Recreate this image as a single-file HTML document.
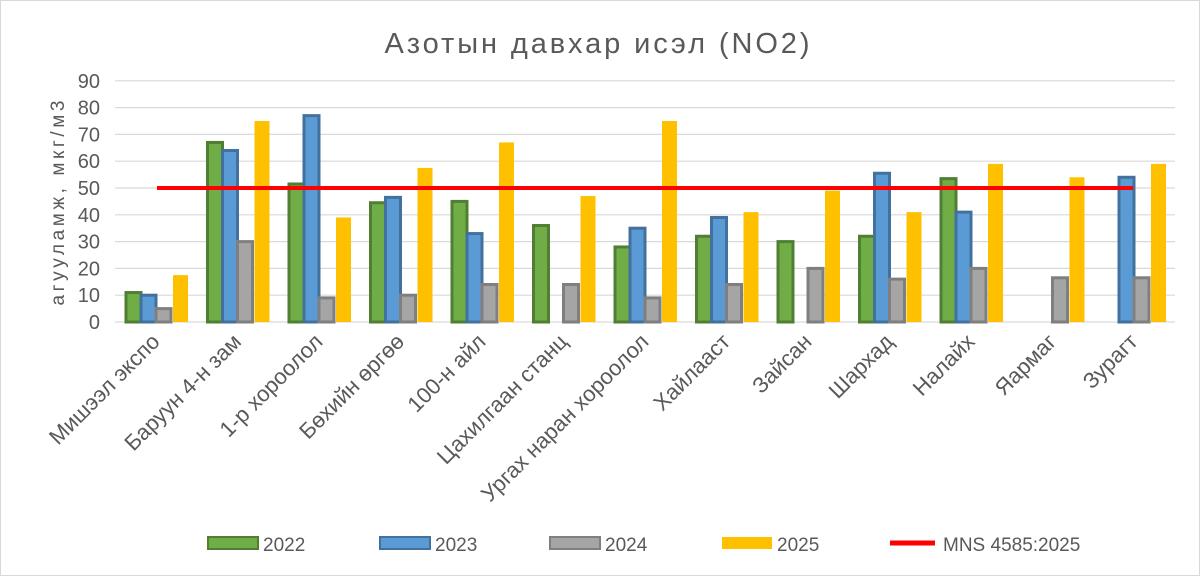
<!DOCTYPE html>
<html><head><meta charset="utf-8">
<style>
html,body{margin:0;padding:0;background:#fff;}
svg{display:block;font-family:"Liberation Sans",sans-serif;}
</style></head>
<body>
<svg id="c" width="1200" height="576" viewBox="0 0 1200 576" xmlns="http://www.w3.org/2000/svg">
<rect x="0.5" y="0.5" width="1199" height="575" fill="#fff" stroke="#d9d9d9"/>
<text x="597" y="53" text-anchor="middle" font-size="29" fill="#595959" textLength="425" lengthAdjust="spacing">Азотын давхар исэл (NO2)</text>
<text transform="translate(64,203) rotate(-90)" text-anchor="middle" font-size="19" fill="#595959" textLength="205" lengthAdjust="spacing">агууламж, мкг/м3</text>
<g id="grid"></g>
<g id="bars"></g>
<line x1="157" y1="188" x2="1133" y2="188" stroke="#ff0000" stroke-width="4"/>
<g id="labels" font-size="22" fill="#595959"></g>
<g font-size="19" fill="#595959">
<rect x="208" y="537" width="50" height="12" fill="#70ad47" stroke="#507e32" stroke-width="2"/><text x="263" y="551">2022</text>
<rect x="380" y="537" width="50" height="12" fill="#5b9bd5" stroke="#41719c" stroke-width="2"/><text x="435" y="551">2023</text>
<rect x="550" y="537" width="50" height="12" fill="#a5a5a5" stroke="#7f7f7f" stroke-width="2"/><text x="605" y="551">2024</text>
<rect x="722" y="537" width="50" height="12" fill="#ffc000"/><text x="777" y="551">2025</text>
<line x1="890" y1="543" x2="935" y2="543" stroke="#ff0000" stroke-width="5"/><text x="943" y="551">MNS 4585:2025</text>
</g>
</svg>
<script>
var ns="http://www.w3.org/2000/svg";
function el(p,t,a,txt){var e=document.createElementNS(ns,t);for(var k in a)e.setAttribute(k,a[k]);if(txt!=null)e.textContent=txt;p.appendChild(e);return e;}
var g=document.getElementById('grid');
function Y(v){return 322-v*2.68;}
for(var v=0;v<=90;v+=10){var y=Y(v);el(g,'line',{x1:115,x2:1175,y1:y,y2:y,stroke:'#d9d9d9','stroke-width':1.2});
el(g,'text',{x:100,y:y+7,'text-anchor':'end','font-size':20,fill:'#595959'},String(v));}
var cats=["Мишээл экспо","Баруун 4-н зам","1-р хороолол","Бөхийн өргөө","100-н айл","Цахилгаан станц","Ургах наран хороолол","Хайлааст","Зайсан","Шархад","Налайх","Яармаг","Зурагт"];
var d=[[11,10,5,17.5],[67,64,30,75],[51.5,77,9,39],[44.5,46.5,10,57.5],[45,33,14,67],[36,null,14,47],[28,35,9,75],[32,39,14,41],[30,null,20,49],[32,55.5,16,41],[53.5,41,20,59],[null,null,16.5,54],[null,54,16.5,59]];
var fills=['#70ad47','#5b9bd5','#a5a5a5','#ffc000'],strokes=['#507e32','#41719c','#7f7f7f','none'],offs=[11,26,41,58];
var b=document.getElementById('bars'),L=document.getElementById('labels');
for(var i=0;i<13;i++){var s=115+81.5*i;
for(var j=0;j<4;j++){var v=d[i][j];if(v==null)continue;var y=Y(v);
el(b,'rect',{x:s+offs[j],y:y,width:15,height:322-y,fill:fills[j],stroke:strokes[j],'stroke-width':j==3?0:3});}
var cx=s+46;
el(L,'text',{transform:'translate('+cx+',343) rotate(-45)','text-anchor':'end'},cats[i]);}
</script>
</body></html>
